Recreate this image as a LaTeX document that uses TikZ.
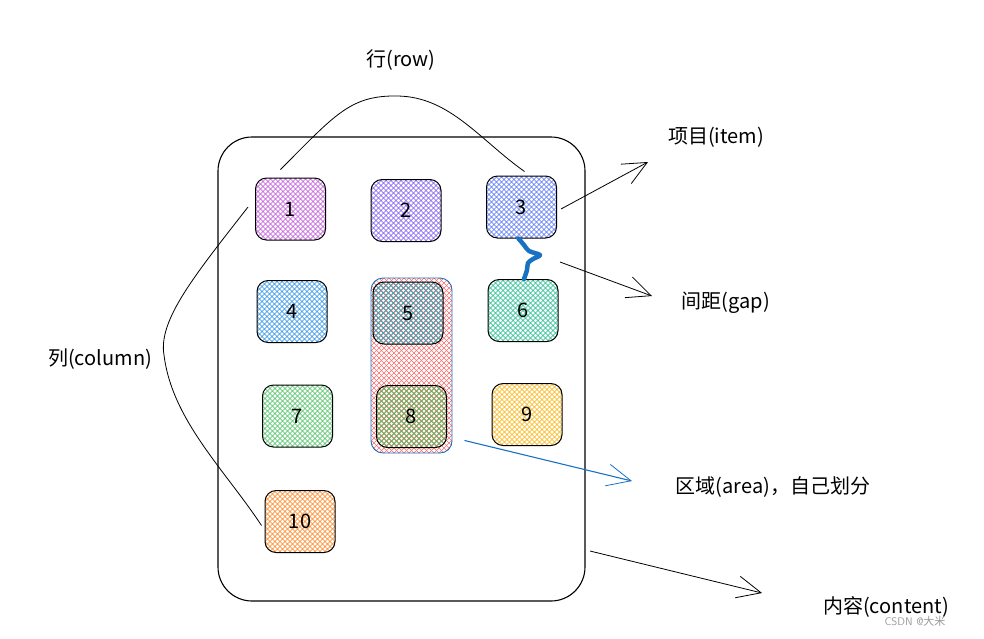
\documentclass[tikz,border=0pt]{standalone}
\usepackage{fontspec}
\newfontfamily\cjk{Noto Sans CJK SC}
\usetikzlibrary{arrows.meta}
\definecolor{grape}{HTML}{BE4BDB}
\definecolor{violet}{HTML}{7950F2}
\definecolor{indigo}{HTML}{4C6EF5}
\definecolor{sky}{HTML}{228BE6}
\definecolor{cyanc}{HTML}{15AABF}
\definecolor{teal}{HTML}{12B886}
\definecolor{grn}{HTML}{40C057}
\definecolor{yel}{HTML}{FAB005}
\definecolor{orng}{HTML}{FD7E14}
\definecolor{redc}{HTML}{FA5252}
\definecolor{bluec}{HTML}{1971C2}
\begin{document}
\begin{tikzpicture}[x=1pt,y=-1pt,
lbl/.style={font=\cjk\fontsize{20}{24}\selectfont},
hatch/.style={path picture={\foreach \k in {-240,-235,...,240}{
\draw[#1,line width=.6pt](path picture bounding box.center)++(\k,-100)--++(200,200);
\draw[#1,line width=.6pt](path picture bounding box.center)++(\k,100)--++(200,-200);}}},
itembox/.style={hatch=#1,draw,line width=1pt,rounded corners=11pt,minimum width=70pt,minimum height=62pt,font=\cjk\fontsize{20}{22}\selectfont},
sketch/.style={-{Straight Barb[length=24pt,width=22pt,line width=.8pt]},line width=.8pt}]
\useasboundingbox(0,0)rectangle(984,638);
\node[draw,line width=1.1pt,rounded corners=34pt,minimum width=367pt,minimum height=464pt](box)at(401.5,369){};
\node[hatch=redc!85,draw=bluec,line width=.9pt,rounded corners=12pt,minimum width=81pt,minimum height=175pt](area)at(411.5,365.5){};
\foreach \n/\x/\y/\c in {1/290.5/209/grape,2/406/210.5/violet,3/521.5/207/indigo,4/292/311.5/sky,5/408/313/cyanc,6/523/310.5/teal,7/297.5/416/grn,8/411.5/416.5/grn,9/527/414.5/yel,10/300/521.5/orng}
\node[itembox=\c](i\n)at(\x,\y){\n};
\node[lbl](row)at(401,60){行(row)};
\node[lbl](col)at(100,359){列(column)};
\node[lbl](item)at(716,137){项目(item)};
\node[lbl](gap)at(726,303){间距(gap)};
\node[lbl](reg)at(773,487){区域(area)，自己划分};
\node[lbl](cont)at(886,607){内容(content)};
\node[font=\sffamily\fontsize{11}{12}\selectfont,text=black!40](mark)at(915,621){CSDN @\cjk 大米};
\coordinate(t1)at(648,162);
\coordinate(g0)at(560,262);
\coordinate(t2)at(652,296);
\coordinate(t3)at(632,481);
\coordinate(c0)at(590,551);
\coordinate(t4)at(762,593);
\draw[line width=.8pt]([xshift=-10pt,yshift=8pt]i1.north).. controls(335,115)and(350,95)..(398,96)
.. controls(450,97)and(480,140)..([xshift=3pt,yshift=4pt]i3.north);
\draw[line width=.8pt]([xshift=-7pt,yshift=2pt]i1.west).. controls(195,275)and(158,320)..(164,355)
.. controls(172,420)and(225,470)..([xshift=-3pt,yshift=-4pt]i10.west);
\draw[sketch]([xshift=4pt,yshift=-2pt]i3.east)--(t1);
\draw[sketch](g0)--(t2);
\draw[sketch,bluec,line width=1.1pt]([xshift=12pt,yshift=13pt]area.south east)--(t3);
\draw[sketch](c0)--(t4);
\draw[bluec,line width=4.5pt,line cap=round,line join=round]plot[smooth]coordinates{
([xshift=-3pt]i3.south)(524,245)(529,251)(540,255)(533,259)(528,263)(527,270)([xshift=1pt]i6.north)};
\end{tikzpicture}
\end{document}
